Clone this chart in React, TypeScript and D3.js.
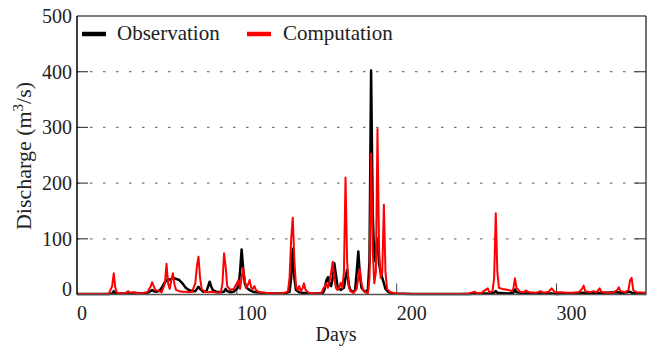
import React from "react";
import * as d3 from "d3";

const W = 652;
const H = 346;

const xTicks = [0, 100, 200, 300];
const yTicks = [0, 100, 200, 300, 400, 500];
const gridValues = [100, 200, 300, 400];
const seriesNames = ["Observation", "Computation"];
const seriesColors = ["#000000", "#ff0000"];

// [day, discharge m3/s]
const observation: [number, number][] = [
  [0, 1], [10, 1], [20, 1], [22, 2], [23, 6], [24, 2], [30, 2], [32, 4], [33, 2], [36, 3], [40, 2],
  [44, 3], [46, 6], [47, 8], [48, 6], [50, 5], [52, 8], [53, 12], [55, 22], [57, 28], [58, 26],
  [60, 30], [62, 28], [64, 26], [66, 20], [68, 12], [70, 8], [72, 6], [74, 6], [75, 10], [76, 14],
  [77, 10], [79, 5], [81, 6], [82, 14], [83, 23], [84, 14], [85, 8], [87, 5], [90, 4], [92, 5],
  [93, 10], [94, 6], [96, 4], [98, 5], [100, 10], [101, 14], [102, 40], [103, 81], [104, 45],
  [105, 20], [106, 12], [108, 8], [110, 5], [112, 4], [115, 3], [120, 2], [125, 2], [130, 2],
  [133, 5], [134, 30], [135, 82], [136, 30], [137, 8], [139, 4], [141, 3], [145, 2], [150, 2],
  [154, 3], [155, 10], [156, 25], [157, 31], [158, 18], [159, 15], [160, 30], [161, 56], [162, 35],
  [163, 15], [165, 8], [167, 12], [168, 30], [169, 44], [170, 18], [171, 8], [173, 4], [174, 8],
  [175, 40], [176, 77], [177, 35], [178, 12], [180, 5], [182, 8], [183, 60], [184, 402], [185, 150],
  [186, 60], [187, 80], [188, 100], [189, 55], [190, 40], [191, 30], [192, 20], [193, 10], [195, 4],
  [198, 2], [210, 1], [245, 1], [250, 2], [258, 2], [261, 3], [262, 6], [263, 3], [270, 2],
  [273, 3], [274, 9], [275, 4], [280, 2], [297, 2], [300, 1], [317, 3], [318, 2], [339, 4],
  [340, 2], [346, 5], [347, 3], [356, 1],
];

const computation: [number, number][] = [
  [0, 1], [18, 1], [20, 2], [22, 15], [23, 38], [24, 12], [25, 3], [28, 2], [31, 3], [32, 6],
  [33, 3], [35, 4], [36, 3], [40, 2], [44, 4], [46, 14], [47, 22], [48, 15], [49, 8], [51, 6],
  [53, 4], [55, 20], [56, 55], [57, 20], [58, 10], [59, 25], [60, 38], [61, 18], [62, 8], [64, 6],
  [66, 5], [68, 5], [70, 4], [72, 5], [74, 20], [75, 50], [76, 68], [77, 30], [78, 10], [80, 5],
  [82, 4], [84, 5], [86, 4], [88, 3], [90, 4], [91, 20], [92, 74], [93, 50], [94, 15], [96, 8],
  [98, 10], [100, 20], [101, 26], [102, 10], [103, 30], [104, 48], [105, 25], [106, 12], [107, 18],
  [108, 26], [109, 12], [110, 10], [111, 15], [112, 8], [114, 4], [118, 3], [125, 2], [130, 3],
  [132, 6], [133, 30], [134, 100], [135, 138], [136, 60], [137, 15], [138, 8], [139, 15], [140, 6],
  [141, 10], [142, 20], [143, 8], [145, 3], [150, 2], [153, 3], [154, 10], [155, 14], [156, 20],
  [157, 12], [158, 23], [159, 40], [160, 59], [161, 30], [162, 12], [163, 8], [164, 12], [165, 21],
  [166, 12], [167, 40], [168, 210], [169, 60], [170, 15], [171, 6], [173, 3], [175, 10], [176, 30],
  [177, 46], [178, 20], [179, 8], [181, 3], [182, 2], [183, 30], [184, 253], [185, 80], [186, 20],
  [187, 40], [188, 297], [189, 80], [190, 30], [191, 40], [192, 161], [193, 40], [194, 10],
  [196, 4], [200, 2], [210, 1], [220, 1], [240, 1], [245, 2], [249, 5], [250, 2], [253, 3],
  [257, 11], [258, 4], [260, 6], [261, 30], [262, 146], [263, 40], [264, 12], [266, 10], [268, 9],
  [270, 8], [272, 6], [273, 10], [274, 29], [275, 12], [277, 5], [279, 4], [281, 7], [283, 4],
  [287, 3], [290, 6], [292, 3], [295, 5], [297, 11], [299, 4], [303, 4], [306, 3], [310, 3],
  [314, 4], [316, 10], [317, 16], [318, 6], [321, 4], [323, 6], [325, 4], [327, 11], [328, 5],
  [331, 3], [335, 3], [338, 8], [339, 13], [340, 6], [343, 4], [345, 8], [346, 25], [347, 30],
  [348, 8], [350, 4], [356, 3],
];

const margin = { left: 77, right: 6, top: 16, bottom: 51.5 };
const font = "Liberation Serif";
const ts: React.CSSProperties = { fontFamily: '"Liberation Serif", "Times New Roman", Times, "DejaVu Serif", serif' };

export default function App() {
  const x = d3.scaleLinear().domain([0, 356]).range([margin.left, W - margin.right]);
  const y = d3.scaleLinear().domain([0, 500]).range([H - margin.bottom, margin.top]);
  const line = d3
    .line<[number, number]>()
    .x((d) => x(d[0]))
    .y((d) => y(d[1]));
  const x0 = x.range()[0];
  const x1 = x.range()[1];
  const y0 = y.range()[0];
  const y1 = y.range()[1];

  return (
    <svg width={W} height={H} style={{ position: "absolute", left: 0, top: 0 }} fontFamily={font}>
      <rect width={W} height={H} fill="#fff" />
      {gridValues.map((v) => (
        <line key={"g" + v} x1={x0} x2={x1} y1={y(v)} y2={y(v)} stroke="#777" strokeWidth={1.2} strokeDasharray="2.5 10.5" />
      ))}
      {gridValues.map((v) => (
        <g key={"t" + v}>
          <line x1={x0} x2={x0 + 11} y1={y(v)} y2={y(v)} stroke="#444" strokeWidth={1.2} />
          <line x1={x1 - 12} x2={x1} y1={y(v)} y2={y(v)} stroke="#444" strokeWidth={1.2} />
        </g>
      ))}
      {xTicks.slice(1).map((v) => (
        <line key={"xt" + v} x1={x(v)} x2={x(v)} y1={y0} y2={y0 - 11} stroke="#444" strokeWidth={1} />
      ))}
      <path d={line(observation) || ""} fill="none" stroke={seriesColors[0]} strokeWidth={2.5} strokeLinejoin="round" />
      <path d={line(computation) || ""} fill="none" stroke={seriesColors[1]} strokeWidth={2} strokeLinejoin="round" />
      <line x1={x0} x2={x1} y1={y1} y2={y1} stroke="#555" strokeWidth={1.5} />
      <line x1={x1} x2={x1} y1={y1} y2={y0} stroke="#444" strokeWidth={1.5} />
      <line x1={x0} x2={x1} y1={y0} y2={y0} stroke="#555" strokeWidth={1.5} />
      <line x1={x0} x2={x0} y1={y1} y2={y0} stroke="#000" strokeWidth={1.5} />
      {yTicks.map((v) => (
        <text key={"yl" + v} x={x0 - 5} y={y(v) + (v === 0 ? 1 : 7)} textAnchor="end" fontSize={20} fill="#222" style={ts}>
          {v}
        </text>
      ))}
      {xTicks.map((v) => (
        <text key={"xl" + v} x={x(v)} y={y0 + 25} textAnchor="start" fontSize={20} fill="#222" style={ts}>
          {v}
        </text>
      ))}
      <text x={336} y={341} textAnchor="middle" fontSize={20} fill="#222" style={ts}>
        Days
      </text>
      <text transform={`translate(31, 156) rotate(-90)`} textAnchor="middle" fontSize={22} fill="#222" style={ts}>
        Discharge (m<tspan dy={-8} fontSize={15}>3</tspan>
        <tspan dy={8}>/s)</tspan>
      </text>
      <line x1={82} x2={106} y1={34} y2={34} stroke={seriesColors[0]} strokeWidth={4.5} />
      <text x={117} y={40} fontSize={21} fill="#222" style={ts}>
        {seriesNames[0]}
      </text>
      <line x1={247} x2={271} y1={34} y2={34} stroke={seriesColors[1]} strokeWidth={4.5} />
      <text x={283} y={40} fontSize={21} fill="#222" style={ts}>
        {seriesNames[1]}
      </text>
    </svg>
  );
}
